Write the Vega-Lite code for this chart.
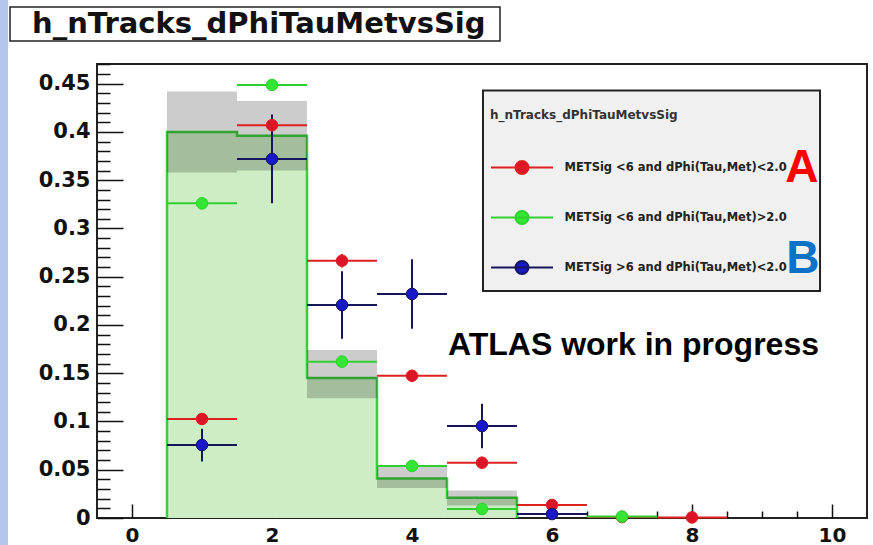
{
  "$schema": "https://vega.github.io/schema/vega-lite/v6.json",
  "width": 770,
  "height": 454,
  "autosize": {"type": "none"},
  "padding": {"left": 97, "top": 64, "right": 6, "bottom": 27},
  "background": "white",
  "config": {
    "view": {"stroke": "#222", "strokeWidth": 2},
    "axis": {"grid": false, "domain": false, "title": null}
  },
  "datasets": {
    "one": [{}],
    "hist": [
      {"lo": 0.5, "hi": 1.5, "h": 0.400, "blo": 0.358, "bhi": 0.442},
      {"lo": 1.5, "hi": 2.5, "h": 0.396, "blo": 0.360, "bhi": 0.432},
      {"lo": 2.5, "hi": 3.5, "h": 0.145, "blo": 0.124, "bhi": 0.174},
      {"lo": 3.5, "hi": 4.5, "h": 0.041, "blo": 0.031, "bhi": 0.053},
      {"lo": 4.5, "hi": 5.5, "h": 0.021, "blo": 0.013, "bhi": 0.0285}
    ],
    "step": [
      {"i": 0, "x": 0.5, "y": 0},
      {"i": 1, "x": 0.5, "y": 0.400},
      {"i": 2, "x": 1.5, "y": 0.396},
      {"i": 3, "x": 2.5, "y": 0.145},
      {"i": 4, "x": 3.5, "y": 0.041},
      {"i": 5, "x": 4.5, "y": 0.021},
      {"i": 6, "x": 5.5, "y": 0}
    ],
    "pts": [
      {"s": "METSig <6 and dPhi(Tau,Met)<2.0", "x": 1, "xlo": 0.5, "xhi": 1.5, "y": 0.1026, "ylo": 0.0966, "yhi": 0.1086},
      {"s": "METSig <6 and dPhi(Tau,Met)<2.0", "x": 2, "xlo": 1.5, "xhi": 2.5, "y": 0.407, "ylo": 0.398, "yhi": 0.416},
      {"s": "METSig <6 and dPhi(Tau,Met)<2.0", "x": 3, "xlo": 2.5, "xhi": 3.5, "y": 0.2666, "ylo": 0.2596, "yhi": 0.2736},
      {"s": "METSig <6 and dPhi(Tau,Met)<2.0", "x": 4, "xlo": 3.5, "xhi": 4.5, "y": 0.1474, "ylo": 0.1424, "yhi": 0.1524},
      {"s": "METSig <6 and dPhi(Tau,Met)<2.0", "x": 5, "xlo": 4.5, "xhi": 5.5, "y": 0.0573, "ylo": 0.0543, "yhi": 0.0603},
      {"s": "METSig <6 and dPhi(Tau,Met)<2.0", "x": 6, "xlo": 5.5, "xhi": 6.5, "y": 0.0135, "ylo": 0.0115, "yhi": 0.0155},
      {"s": "METSig <6 and dPhi(Tau,Met)<2.0", "x": 7, "xlo": 6.5, "xhi": 7.5, "y": 0.001, "ylo": 0.0005, "yhi": 0.0015},
      {"s": "METSig <6 and dPhi(Tau,Met)<2.0", "x": 8, "xlo": 7.5, "xhi": 8.5, "y": 0.0006, "ylo": 0.0003, "yhi": 0.0009},
      {"s": "METSig <6 and dPhi(Tau,Met)>2.0", "x": 1, "xlo": 0.5, "xhi": 1.5, "y": 0.326, "ylo": 0.322, "yhi": 0.330},
      {"s": "METSig <6 and dPhi(Tau,Met)>2.0", "x": 2, "xlo": 1.5, "xhi": 2.5, "y": 0.4487, "ylo": 0.4447, "yhi": 0.4527},
      {"s": "METSig <6 and dPhi(Tau,Met)>2.0", "x": 3, "xlo": 2.5, "xhi": 3.5, "y": 0.162, "ylo": 0.159, "yhi": 0.165},
      {"s": "METSig <6 and dPhi(Tau,Met)>2.0", "x": 4, "xlo": 3.5, "xhi": 4.5, "y": 0.0539, "ylo": 0.0519, "yhi": 0.0559},
      {"s": "METSig <6 and dPhi(Tau,Met)>2.0", "x": 5, "xlo": 4.5, "xhi": 5.5, "y": 0.0093, "ylo": 0.0083, "yhi": 0.0103},
      {"s": "METSig <6 and dPhi(Tau,Met)>2.0", "x": 7, "xlo": 6.5, "xhi": 7.5, "y": 0.0015, "ylo": 0.001, "yhi": 0.002},
      {"s": "METSig >6 and dPhi(Tau,Met)<2.0", "x": 1, "xlo": 0.5, "xhi": 1.5, "y": 0.0756, "ylo": 0.0586, "yhi": 0.0926},
      {"s": "METSig >6 and dPhi(Tau,Met)<2.0", "x": 2, "xlo": 1.5, "xhi": 2.5, "y": 0.372, "ylo": 0.326, "yhi": 0.418},
      {"s": "METSig >6 and dPhi(Tau,Met)<2.0", "x": 3, "xlo": 2.5, "xhi": 3.5, "y": 0.2207, "ylo": 0.1857, "yhi": 0.2557},
      {"s": "METSig >6 and dPhi(Tau,Met)<2.0", "x": 4, "xlo": 3.5, "xhi": 4.5, "y": 0.2321, "ylo": 0.1961, "yhi": 0.2681},
      {"s": "METSig >6 and dPhi(Tau,Met)<2.0", "x": 5, "xlo": 4.5, "xhi": 5.5, "y": 0.0953, "ylo": 0.0723, "yhi": 0.1183},
      {"s": "METSig >6 and dPhi(Tau,Met)<2.0", "x": 6, "xlo": 5.5, "xhi": 6.5, "y": 0.0041, "ylo": 0.0001, "yhi": 0.0081}
    ]
  },
  "resolve": {"axis": {"x": "independent", "y": "independent"}},
  "layer": [
    {
      "data": {"name": "one"},
      "mark": {"type": "rect", "fill": "#b3c7ee"},
      "encoding": {
        "x": {"datum": -1.886, "axis": null, "scale": {"domain": [-0.5, 10.5], "nice": false, "zero": false}},
        "x2": {"datum": -1.771},
        "y": {"datum": -0.03, "axis": null, "scale": {"domain": [0, 0.4704], "nice": false, "zero": false}},
        "y2": {"datum": 0.54}
      }
    },
    {
      "data": {"name": "one"},
      "mark": {"type": "rect", "fill": "white", "stroke": "#222", "strokeWidth": 1.5},
      "encoding": {
        "x": {"datum": -1.743, "axis": null},
        "x2": {"datum": 5.257},
        "y": {"datum": 0.4943, "axis": null},
        "y2": {"datum": 0.5295}
      }
    },
    {
      "data": {"name": "one"},
      "mark": {"type": "text", "font": "DejaVu Sans", "fontSize": 29, "fontWeight": "bold", "color": "#111", "align": "left", "baseline": "alphabetic"},
      "encoding": {
        "x": {"datum": -1.4286, "axis": null},
        "y": {"datum": 0.5025, "axis": null},
        "text": {"value": "h_nTracks_dPhiTauMetvsSig"}
      }
    },
    {
      "data": {"name": "hist"},
      "mark": {"type": "rect", "fill": "#cdeec5"},
      "encoding": {
        "x": {"field": "lo", "type": "quantitative", "axis": {
          "orient": "bottom", "values": [0, 2, 4, 6, 8, 10], "tickSize": -14, "tickWidth": 1.5, "tickColor": "#111",
          "labelPadding": 21, "labelFont": "DejaVu Sans", "labelFontSize": 20, "labelFontWeight": "bold", "labelColor": "#111",
          "labelFlush": false, "labelOverlap": false, "format": "d"}},
        "x2": {"field": "hi"},
        "y": {"field": "h", "type": "quantitative", "axis": {
          "orient": "left", "values": [0, 0.05, 0.1, 0.15, 0.2, 0.25, 0.3, 0.35, 0.4, 0.45], "tickSize": -26, "tickWidth": 1.5, "tickColor": "#111",
          "labelPadding": 33, "labelFont": "DejaVu Sans", "labelFontSize": 21, "labelFontWeight": "bold", "labelColor": "#111",
          "labelFlush": false, "labelOverlap": false, "format": "~g"}},
        "y2": {"datum": 0}
      }
    },
    {
      "data": {"name": "step"},
      "mark": {"type": "line", "interpolate": "step-after", "color": "#3ccc3c", "strokeWidth": 2.5},
      "encoding": {
        "x": {"field": "x", "type": "quantitative", "axis": {
          "orient": "bottom", "values": [0.5, 1, 1.5, 2.5, 3, 3.5, 4.5, 5, 5.5, 6.5, 7, 7.5, 8.5, 9, 9.5],
          "tickSize": -7, "tickWidth": 1.5, "tickColor": "#111", "labels": false}},
        "y": {"field": "y", "type": "quantitative", "axis": {
          "orient": "left",
          "values": [0.01, 0.02, 0.03, 0.04, 0.06, 0.07, 0.08, 0.09, 0.11, 0.12, 0.13, 0.14, 0.16, 0.17, 0.18, 0.19, 0.21, 0.22, 0.23, 0.24, 0.26, 0.27, 0.28, 0.29, 0.31, 0.32, 0.33, 0.34, 0.36, 0.37, 0.38, 0.39, 0.41, 0.42, 0.43, 0.44, 0.46, 0.47],
          "tickSize": -13, "tickWidth": 1.5, "tickColor": "#111", "labels": false}},
        "order": {"field": "i"}
      }
    },
    {
      "data": {"name": "hist"},
      "mark": {"type": "rect", "fill": "#000", "fillOpacity": 0.2},
      "encoding": {
        "x": {"field": "lo", "type": "quantitative", "axis": null},
        "x2": {"field": "hi"},
        "y": {"field": "blo", "type": "quantitative", "axis": null},
        "y2": {"field": "bhi"}
      }
    },
    {
      "data": {"name": "pts"},
      "mark": {"type": "rule", "strokeWidth": 2},
      "encoding": {
        "x": {"field": "xlo", "type": "quantitative", "axis": null},
        "x2": {"field": "xhi"},
        "y": {"field": "y", "type": "quantitative", "axis": null},
        "stroke": {"field": "s", "type": "nominal", "title": "h_nTracks_dPhiTauMetvsSig",
          "scale": {"domain": ["METSig <6 and dPhi(Tau,Met)<2.0", "METSig <6 and dPhi(Tau,Met)>2.0", "METSig >6 and dPhi(Tau,Met)<2.0"], "range": ["#e02020", "#30d030", "#16165e"]}}
      }
    },
    {
      "data": {"name": "pts"},
      "mark": {"type": "rule", "strokeWidth": 2},
      "encoding": {
        "x": {"field": "x", "type": "quantitative", "axis": null},
        "y": {"field": "ylo", "type": "quantitative", "axis": null},
        "y2": {"field": "yhi"},
        "stroke": {"field": "s", "type": "nominal", "title": "h_nTracks_dPhiTauMetvsSig"}
      }
    },
    {
      "data": {"name": "pts"},
      "mark": {"type": "circle", "size": 135, "opacity": 1, "strokeWidth": 1},
      "encoding": {
        "x": {"field": "x", "type": "quantitative", "axis": null},
        "y": {"field": "y", "type": "quantitative", "axis": null},
        "fill": {"field": "s", "type": "nominal", "title": "h_nTracks_dPhiTauMetvsSig",
          "scale": {"domain": ["METSig <6 and dPhi(Tau,Met)<2.0", "METSig <6 and dPhi(Tau,Met)>2.0", "METSig >6 and dPhi(Tau,Met)<2.0"], "range": ["#dc1428", "#33e633", "#1818c8"]},
          "legend": {"orient": "none", "legendX": 393, "legendY": 46, "padding": 0,
            "titleFont": "DejaVu Sans", "titleFontSize": 12, "titleFontWeight": "bold", "titleColor": "#333", "titlePadding": 38, "titleLimit": 0,
            "labelFont": "DejaVu Sans", "labelFontSize": 11.5, "labelFontWeight": "bold", "labelColor": "#222", "labelOffset": 35, "labelLimit": 0,
            "symbolType": "M-4.77,0L4.77,0M-1,0A1,1,0,1,1,1,0A1,1,0,1,1,-1,0Z", "symbolSize": 169, "symbolStrokeWidth": 2, "symbolOffset": 24.5,
            "rowPadding": 29, "symbolOpacity": 1}},
        "stroke": {"field": "s", "type": "nominal", "title": "h_nTracks_dPhiTauMetvsSig",
          "legend": {"orient": "none", "legendX": 393, "legendY": 46, "padding": 0,
            "titleFont": "DejaVu Sans", "titleFontSize": 12, "titleFontWeight": "bold", "titleColor": "#333", "titlePadding": 38, "titleLimit": 0,
            "labelFont": "DejaVu Sans", "labelFontSize": 11.5, "labelFontWeight": "bold", "labelColor": "#222", "labelOffset": 35, "labelLimit": 0,
            "symbolType": "M-4.77,0L4.77,0M-1,0A1,1,0,1,1,1,0A1,1,0,1,1,-1,0Z", "symbolSize": 169, "symbolStrokeWidth": 2, "symbolOffset": 24.5,
            "rowPadding": 29, "symbolOpacity": 1}}
      }
    },
    {
      "data": {"name": "one"},
      "mark": {"type": "rect", "fill": "#f0f0f0", "stroke": "#222", "strokeWidth": 2},
      "encoding": {
        "x": {"datum": 5.014, "axis": null},
        "x2": {"datum": 9.829},
        "y": {"datum": 0.2352, "axis": null},
        "y2": {"datum": 0.443}
      }
    },
    {
      "data": {"name": "one"},
      "mark": {"type": "text", "font": "Liberation Sans", "fontSize": 46, "fontWeight": "bold", "color": "#ff0000", "align": "center", "baseline": "alphabetic"},
      "encoding": {
        "x": {"datum": 9.571, "axis": null},
        "y": {"datum": 0.348, "axis": null},
        "text": {"value": "A"}
      }
    },
    {
      "data": {"name": "one"},
      "mark": {"type": "text", "font": "Liberation Sans", "fontSize": 46, "fontWeight": "bold", "color": "#0b72c6", "align": "center", "baseline": "alphabetic"},
      "encoding": {
        "x": {"datum": 9.585, "axis": null},
        "y": {"datum": 0.2539, "axis": null},
        "text": {"value": "B"}
      }
    },
    {
      "data": {"name": "one"},
      "mark": {"type": "text", "font": "Liberation Sans", "fontSize": 32, "fontWeight": "bold", "color": "#000", "align": "left", "baseline": "alphabetic"},
      "encoding": {
        "x": {"datum": 4.514, "axis": null},
        "y": {"datum": 0.1689, "axis": null},
        "text": {"value": "ATLAS work in progress"}
      }
    }
  ]
}
